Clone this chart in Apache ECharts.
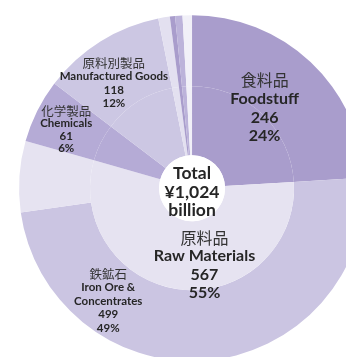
<!DOCTYPE html>
<html><head><meta charset="utf-8">
<script src="https://cdn.jsdelivr.net/npm/echarts@6/dist/echarts.min.js"></script>
<style>html,body{margin:0;padding:0;background:#fff}#c{width:346px;height:357px}</style>
</head><body><div id="c"></div>
<script>
// ---- data ----
const innerNamesJa = ['食料品', '原料品', '化学製品', '原料別製品', 'その他1', 'その他2', 'その他3', 'その他4'];
const innerNamesEn = ['Foodstuff', 'Raw Materials', 'Chemicals', 'Manufactured Goods', 'Other 1', 'Other 2', 'Other 3', 'Other 4'];
const innerValues = [246, 567, 61, 118, 11, 5, 7, 9];
const outerNamesJa = ['食料品', '鉄鉱石', 'その他原料品', '化学製品', '原料別製品', 'その他1', 'その他2', 'その他3', 'その他4'];
const outerNamesEn = ['Foodstuff', 'Iron Ore & Concentrates', 'Other Raw Materials', 'Chemicals', 'Manufactured Goods', 'Other 1', 'Other 2', 'Other 3', 'Other 4'];
const outerValues = [246, 499, 68, 61, 118, 11, 5, 7, 9];
const totalLabel = ['Total', 'billion'];

// ---- styles ----
const colorsByName = {
  'Foodstuff': '#a99dcc', 'Raw Materials': '#e6e3f1', 'Iron Ore & Concentrates': '#cbc5e2',
  'Other Raw Materials': '#e6e3f1', 'Chemicals': '#b5abd6', 'Manufactured Goods': '#ccc7e3',
  'Other 1': '#e3e0f0', 'Other 2': '#a99dcc', 'Other 3': '#bcb3da', 'Other 4': '#f1f0f8'
};
const bigLabels = { 'Foodstuff': [0, -3], 'Raw Materials': [20, 7] };
const smallLabels = { 'Chemicals': [-31, -11], 'Manufactured Goods': [-22, -15], 'Iron Ore & Concentrates': [-98, -27] };
const FONT = 'Lato, "Liberation Sans", sans-serif';
const JP = '"Noto Sans CJK JP", sans-serif';
const rich = {
  jb: { fontFamily: JP, fontSize: 16, color: '#333', lineHeight: 19 },
  eb: { fontFamily: FONT, fontWeight: 'bold', fontSize: 16, color: '#262626', lineHeight: 18.5 },
  js: { fontFamily: JP, fontSize: 12.5, color: '#333', lineHeight: 14 },
  es: { fontFamily: FONT, fontWeight: 'bold', fontSize: 11.5, color: '#262626', lineHeight: 13.5 },
  jc: { fontFamily: JP, fontSize: 12.5, color: '#333', lineHeight: 13 },
  ec: { fontFamily: FONT, fontWeight: 'bold', fontSize: 11.5, color: '#262626', lineHeight: 12.5 }
};
function fmt(ja, en, p, kind) {
  const j = 'j' + kind, e = 'e' + kind;
  const enTxt = en === 'Iron Ore & Concentrates' ? '{' + e + '|Iron Ore &}\n{' + e + '|Concentrates}' : '{' + e + '|' + en + '}';
  return '{' + j + '|' + ja + '}\n' + enTxt + '\n{' + e + '|' + p.value + '}\n{' + e + '|' + Math.round(p.percent) + '%}';
}
function layoutFor(names) {
  return function (params) {
    const n = names[params.dataIndex];
    const o = bigLabels[n] || smallLabels[n];
    return o ? { dx: o[0], dy: o[1] } : {};
  };
}
const center = ['55.5%', '52.7%'];
const total = innerValues.reduce((a, b) => a + b, 0);
const noBorder = { borderWidth: 0 };

const chart = echarts.init(document.getElementById('c'), null, { renderer: 'canvas' });
chart.setOption({
  animation: false,
  series: [
    {
      type: 'pie', silent: true, center, radius: [102, 173], startAngle: 90, clockwise: true,
      label: { show: false }, labelLine: { show: false }, itemStyle: noBorder,
      labelLayout: layoutFor(outerNamesEn),
      data: outerValues.map((v, i) => ({
        value: v, name: outerNamesEn[i],
        itemStyle: { color: colorsByName[outerNamesEn[i]], borderWidth: 0 },
        label: outerNamesEn[i] === 'Iron Ore & Concentrates' ? {
          show: true, position: 'inside', rich,
          formatter: p => fmt(outerNamesJa[i], outerNamesEn[i], p, 's')
        } : { show: false }
      }))
    },
    {
      type: 'pie', silent: true, center, radius: [33, 102], startAngle: 90, clockwise: true,
      label: { show: false }, labelLine: { show: false }, itemStyle: noBorder,
      labelLayout: layoutFor(innerNamesEn),
      data: innerValues.map((v, i) => ({
        value: v, name: innerNamesEn[i],
        itemStyle: { color: colorsByName[innerNamesEn[i]], borderWidth: 0 },
        label: innerNamesEn[i] === 'Raw Materials' ? {
          show: true, position: 'inside', rich,
          formatter: p => fmt(innerNamesJa[i], innerNamesEn[i], p, 'b')
        } : { show: false }
      }))
    },
    {
      type: 'pie', silent: true, center, radius: [33, 173], startAngle: 90, clockwise: true,
      labelLine: { show: false },
      labelLayout: layoutFor(innerNamesEn),
      itemStyle: { color: 'rgba(0,0,0,0)', borderWidth: 0 },
      data: innerValues.map((v, i) => {
        const n = innerNamesEn[i];
        const show = n === 'Foodstuff' || n === 'Chemicals' || n === 'Manufactured Goods';
        const kind = n === 'Foodstuff' ? 'b' : (n === 'Chemicals' ? 'c' : 's');
        return {
          value: v, name: n,
          label: show ? { show: true, position: 'inside', rich,
            formatter: p => fmt(innerNamesJa[i], n, p, kind) } : { show: false }
        };
      })
    },
    {
      type: 'pie', silent: true, center, radius: [0, 33],
      itemStyle: { color: '#fff', borderWidth: 0 }, labelLine: { show: false },
      labelLayout: { dy: 4 },
      label: {
        show: true, position: 'center', fontFamily: FONT, fontWeight: 'bold', fontSize: 17.5,
        color: '#262626', lineHeight: 18.5,
        formatter: () => totalLabel[0] + '\n¥' + total.toLocaleString('en-US') + '\n' + totalLabel[1]
      },
      data: [{ value: total, name: 'Total' }]
    }
  ]
});
</script>
</body></html>
